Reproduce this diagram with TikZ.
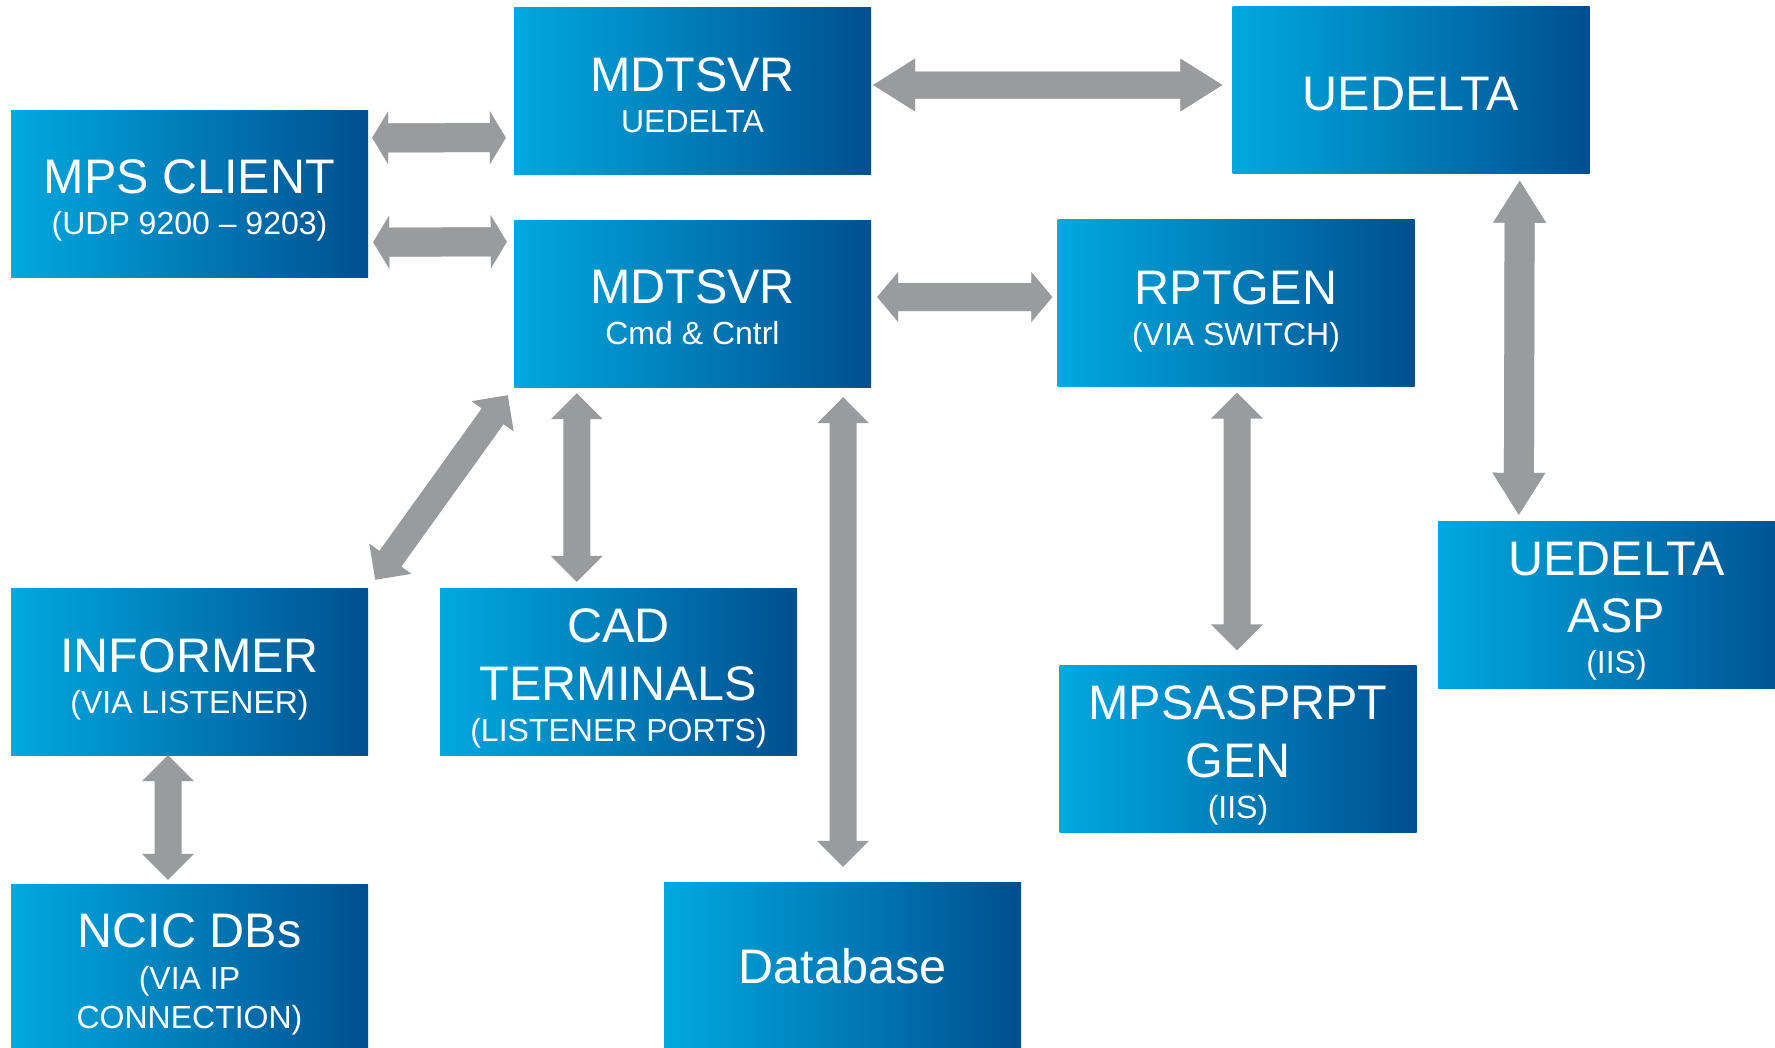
\documentclass[tikz,border=0pt]{standalone}
\usepackage{fontspec}
\setmainfont{Liberation Sans}
\usetikzlibrary{calc}
\definecolor{boxL}{RGB}{0,169,224}
\definecolor{boxR}{RGB}{0,79,143}
\definecolor{agray}{RGB}{154,155,157}
\definecolor{ashadowA}{RGB}{228,229,230}
\definecolor{ashadowB}{RGB}{210,211,213}
\newcommand\ttl[1]{{\fontsize{48.5}{41}\selectfont #1}}
% double arrow polygon: #1 start, #2 end, #3 half head width, #4 head length, #5 half shaft width, #6 options
\newcommand\dblarrow[6]{%
  \fill[#6] (#1) -- ($(#1)!#4!(#2)!#3!90:(#2)$) -- ($(#1)!#4!(#2)!#5!90:(#2)$)
    -- ($(#2)!#4!(#1)!#5!-90:(#1)$) -- ($(#2)!#4!(#1)!#3!-90:(#1)$) -- (#2)
    -- ($(#2)!#4!(#1)!#3!90:(#1)$) -- ($(#2)!#4!(#1)!#5!90:(#1)$)
    -- ($(#1)!#4!(#2)!#5!-90:(#2)$) -- ($(#1)!#4!(#2)!#3!-90:(#2)$) -- cycle;}
\newcommand\shadarrow[5]{%
  \dblarrow{#1}{#2}{#3}{#4}{#5}{ashadowA, xshift=3.5pt, yshift=-4.5pt}%
  \dblarrow{#1}{#2}{#3}{#4}{#5}{ashadowB, xshift=2pt, yshift=-2.5pt}%
  \dblarrow{#1}{#2}{#3}{#4}{#5}{agray}}
\tikzset{
  box/.style={rectangle, draw=none, minimum width=357pt, minimum height=167pt, inner sep=0pt,
    left color=boxL, right color=boxR, text=white, align=center,
    font=\fontsize{32}{41}\selectfont, text depth=0pt}
}
\begin{document}
\begin{tikzpicture}[x=1pt,y=-1pt]
\useasboundingbox (0,0) rectangle (1775,1047);
\clip (0,0) rectangle (1775,1047);
% boxes
\node[box, text height=81pt] (mps) at (189.5,193.5) {\ttl{MPS CLIENT}\\(UDP 9200 – 9203)};
\node[box, text height=82pt] (mdu) at (692.5,91) {\ttl{MDTSVR}\\UEDELTA};
\node[box, text height=40pt] (ued) at (1411,90) {\ttl{UEDELTA}};
\node[box, text height=81pt] (mdc) at (692.5,303.5) {\ttl{MDTSVR}\\Cmd \& Cntrl};
\node[box, text height=84pt] (rpt) at (1236,303) {\ttl{RPTGEN}\\(VIA SWITCH)};
\node[box, text height=137pt] (asp) at (1616.5,604.5) {\ttl{UEDELTA}\\[16pt]\ttl{ASP}\\(IIS)};
\node[box, text height=83pt] (inf) at (189.5,671.5) {\ttl{INFORMER}\\(VIA LISTENER)};
\node[box, text height=139pt] (cad) at (618.5,671.5) {\ttl{CAD}\\[17pt]\ttl{TERMINALS}\\(LISTENER PORTS)};
\node[box, text height=138pt] (mpsa) at (1238,749) {\ttl{MPSASPRPT}\\[17pt]\ttl{GEN}\\(IIS)};
\node[box, text height=121pt] (ncic) at (189.5,967.5) {\ttl{NCIC DBs}\\[1pt](VIA IP\\[-2pt]CONNECTION)};
\node[box, text height=35pt] (db) at (842.5,965.5) {\ttl{Database}};
% connector end points, tied to the boxes
\coordinate (a1) at ($(mps.north east)+(4,28)$);
\coordinate (b1) at ($(mdu.south west)+(-8,-37)$);
\coordinate (a2) at ($(mps.south east)+(5,-35)$);
\coordinate (b2) at ($(mdc.north west)+(-7,22)$);
\coordinate (a3) at ($(mdu.east)+(2,-6)$);
\coordinate (b3) at ($(ued.west)+(-10,-5)$);
\coordinate (a4) at ($(mdc.east)+(6,-6.5)$);
\coordinate (b4) at ($(rpt.west)+(-5,-6)$);
\coordinate (a5) at ($(ued.south east)+(-70,7)$);
\coordinate (b5) at ($(asp.north west)+(81,-6)$);
\coordinate (a6) at ($(rpt.south)+(1,6)$);
\coordinate (b6) at ($(mpsa.north)+(-1,-15)$);
\coordinate (a7) at ($(mdc.south west)+(63,6)$);
\coordinate (b7) at ($(cad.north west)+(137,-6)$);
\coordinate (a8) at ($(mdc.south west)+(-6,8)$);
\coordinate (b8) at ($(inf.north east)+(7,-8)$);
\coordinate (a9) at ($(mdc.south east)+(-28,10)$);
\coordinate (b9) at ($(db.north)+(0.5,-15)$);
\coordinate (a10) at ($(inf.south)+(-21.5,0)$);
\coordinate (b10) at ($(ncic.north)+(-21.5,-4)$);
% connectors
\shadarrow{a1}{b1}{26.5pt}{16pt}{14.5pt}
\shadarrow{a2}{b2}{26.5pt}{16pt}{14.5pt}
\shadarrow{a3}{b3}{26.5pt}{42pt}{13.5pt}
\shadarrow{a4}{b4}{25pt}{21pt}{14pt}
\shadarrow{a5}{b5}{26.5pt}{42pt}{15pt}
\dblarrow{a6}{b6}{26pt}{26pt}{13.5pt}{agray}
\dblarrow{a7}{b7}{26pt}{26pt}{13.5pt}{agray}
\dblarrow{a8}{b8}{26pt}{26pt}{13.5pt}{agray}
\dblarrow{a9}{b9}{26pt}{26pt}{13.5pt}{agray}
\dblarrow{a10}{b10}{26pt}{26pt}{13.5pt}{agray}
\end{tikzpicture}
\end{document}
